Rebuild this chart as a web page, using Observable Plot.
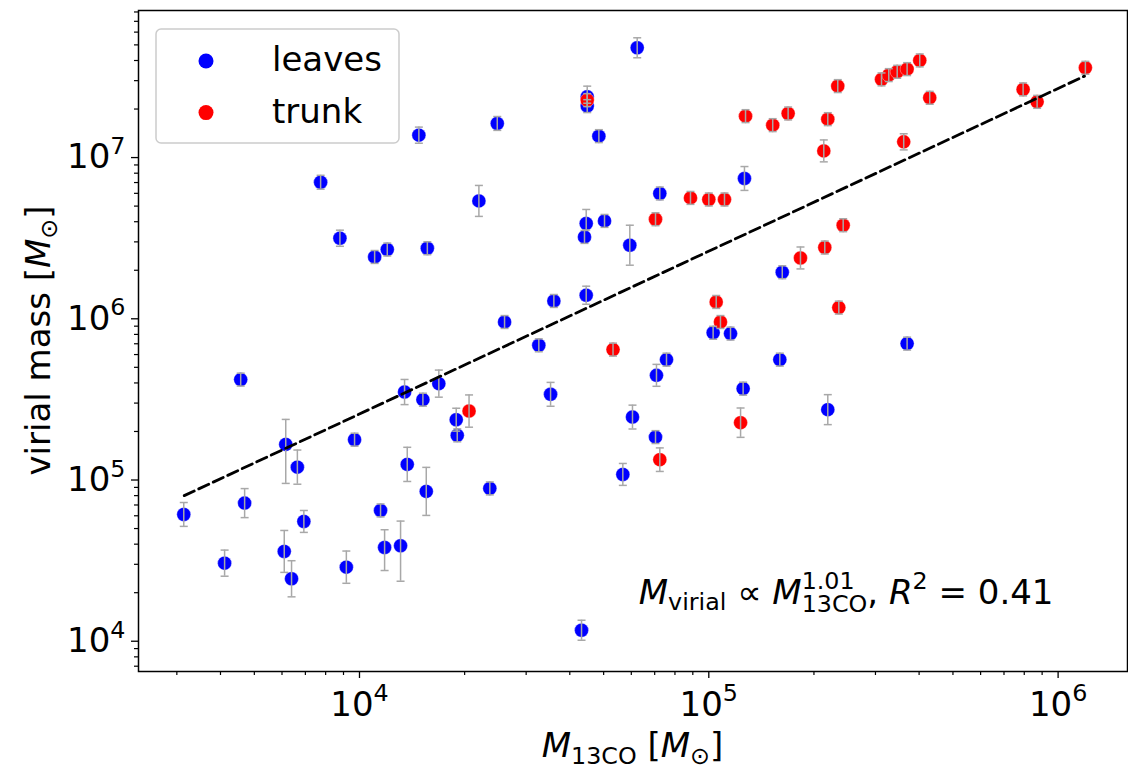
<!DOCTYPE html>
<html><head><meta charset="utf-8">
<script src="https://cdn.jsdelivr.net/npm/d3@7"></script>
<script src="https://cdn.jsdelivr.net/npm/@observablehq/plot@0.6"></script>
<style>body{margin:0;background:#fff}</style>
</head><body><div id="chart"></div>
<script>
// ---- data ----
const categories = ["leaves", "trunk"];
const colors = ["#0000ff", "#ff0000"];

const leavesX = [3140,4110,4570,4690,6090,6150,6390,6640,6930,7740,8790,9170,9680,11050,12010,11490,11800,13110,13460,13700,14790,15190,15530,15640,16870,18920,19050,21970,23610,24800,26020,32610,35240,36010,43220,44070,44570,44570,44870,44870,48450,50290,56740,59410,60470,62380,70380,70830,72400,75670,102900,115400,125400,126500,159700,162300,219100,369600];
const leavesY = [61150,30500,419500,71900,36060,166300,24400,120200,55340,7030000,3160000,28800,177900,2418000,2689000,64760,38160,39100,351300,125000,13770000,315000,84990,2739000,396100,236700,189200,5384000,88690,16280000,955000,684600,340000,1290000,11700,3219000,3900000,1400000,23820000,20850000,13580000,4046000,108300,2860000,245700,47970000,184600,445900,5988000,558000,818700,809400,368700,7419000,558000,1944000,273200,701500];
// error bars in dex (log10 units), lower / upper
const leavesErrLo = [.074,.081,.04,.09,.13,.242,.112,.106,.068,.043,.05,.1,.04,.04,.04,.04,.143,.22,.078,.106,.05,.04,.149,.04,.084,.071,.04,.096,.04,.043,.04,.04,.074,.04,.062,.04,.04,.056,.04,.04,.04,.04,.068,.124,.074,.062,.04,.068,.04,.04,.04,.04,.04,.074,.04,.04,.093,.04];
const leavesErrHi = [.074,.081,.04,.09,.13,.155,.112,.106,.068,.043,.05,.1,.04,.04,.04,.04,.11,.153,.078,.106,.05,.04,.149,.04,.084,.071,.04,.096,.04,.043,.04,.04,.074,.04,.062,.04,.087,.056,.066,.04,.04,.04,.068,.124,.074,.062,.04,.068,.04,.04,.04,.04,.04,.074,.04,.04,.093,.04];

const trunkX = [20590,44870,53190,70380,72400,88630,100000,110900,105000,108000,123300,127400,152400,168700,183000,213400,214800,219100,234000,242500,235600,312200,327500,346200,369600,401700,429000,361400,794000,870800,1197000];
const trunkY = [267700,22720000,644000,4145000,133700,5620000,5495000,5495000,1272000,955000,226800,18070000,15890000,18770000,2384000,11000000,2767000,17310000,27750000,3805000,1173000,30540000,32470000,34040000,35370000,40050000,23480000,12520000,26470000,22160000,36040000];
const trunkErrLo = [.1,.04,.04,.04,.073,.04,.04,.04,.04,.04,.091,.04,.04,.04,.068,.068,.04,.04,.04,.04,.04,.04,.04,.04,.04,.04,.04,.05,.04,.04,.04];
const trunkErrHi = trunkErrLo;

// fitted power law (dashed line) end points
const fitX = [3150, 1190000];
const fitY = [80000, 32000000];

const xMajor = [1e4, 1e5, 1e6];
const yMajor = [1e4, 1e5, 1e6, 1e7];
const minorMult = [2,3,4,5,6,7,8,9];
const xMinor = [1e3,1e4,1e5,1e6].flatMap(d => minorMult.map(m => m*d)).filter(v => v > 2330 && v < 1.58e6);
const yMinor = [1e3,1e4,1e5,1e6,1e7].flatMap(d => minorMult.map(m => m*d)).filter(v => v > 6490 && v < 8.17e7);

const fitText = "M_virial ∝ M_13CO^1.01, R^2 = 0.41";

// ---- tables ----
const rows = [
  ...leavesX.map((x, i) => ({group: categories[0], x, y: leavesY[i], lo: leavesY[i] / 10 ** leavesErrLo[i], hi: leavesY[i] * 10 ** leavesErrHi[i]})),
  ...trunkX.map((x, i) => ({group: categories[1], x, y: trunkY[i], lo: trunkY[i] / 10 ** trunkErrLo[i], hi: trunkY[i] * 10 ** trunkErrHi[i]}))
];
const fit = fitX.map((x, i) => ({x, y: fitY[i]}));

const capSymbol = {draw(ctx, size) { const w = Math.sqrt(size / Math.PI); ctx.moveTo(-w, 0); ctx.lineTo(w, 0); }};
const errColor = "#a8a8a8";
const FS = 34;

const plot = Plot.plot({
  width: 1128, height: 770,
  marginLeft: 138, marginRight: 1, marginTop: 10, marginBottom: 99,
  style: {fontFamily: "DejaVu Sans", fontSize: FS + "px", color: "black", background: "white", overflow: "visible"},
  x: {type: "log", domain: [2330, 1.58e6]},
  y: {type: "log", domain: [6490, 8.17e7]},
  color: {domain: categories, range: colors},
  marks: [
    Plot.dot(rows, {x: "x", y: "y", r: 7, fill: "group", stroke: "white", strokeOpacity: 0.35, strokeWidth: 1}),
    Plot.ruleX(rows, {x: "x", y1: "lo", y2: "hi", stroke: errColor, strokeWidth: 1.5}),
    Plot.dot(rows, {x: "x", y: "lo", symbol: capSymbol, r: 4, fill: "none", stroke: errColor, strokeWidth: 1.5}),
    Plot.dot(rows, {x: "x", y: "hi", symbol: capSymbol, r: 4, fill: "none", stroke: errColor, strokeWidth: 1.5}),
    Plot.line(fit, {x: "x", y: "y", stroke: "black", strokeWidth: 2.8, strokeDasharray: "11,5"}),
    Plot.frame({stroke: "black", strokeWidth: 1.5}),
    Plot.axisX(xMinor, {tickSize: 4, tickFormat: () => "", label: null, strokeWidth: 1.2}),
    Plot.axisX(xMajor, {tickSize: 7, tickPadding: 13, tickFormat: d => "10^" + Math.round(Math.log10(d)), label: null, strokeWidth: 1.3}),
    Plot.axisY(yMinor, {tickSize: 4, tickFormat: () => "", label: null, strokeWidth: 1.2}),
    Plot.axisY(yMajor, {tickSize: 7, tickPadding: 6, tickFormat: d => "10^" + Math.round(Math.log10(d)), label: null, strokeWidth: 1.3}),
    Plot.text([fitText], {frameAnchor: "bottom-right", textAnchor: "end", dx: -74, dy: -68})
  ]
});
document.getElementById("chart").appendChild(plot);
const svg = d3.select(plot);

// rich text helper: segments with italic / size / baseline shift (em of base)
function rich(textSel, segs, fs = FS) {
  textSel.text(null);
  let cur = 0;
  let lastNode = null;
  segs.forEach(s => {
    const size = (s.size || 1) * fs;
    const shift = (s.shift || 0) * fs;
    const ts = textSel.append("tspan").text(s.t)
      .attr("dy", (shift - cur).toFixed(2))
      .attr("font-size", size)
      .attr("font-style", s.it ? "italic" : "normal");
    if (s.back && lastNode) ts.attr("dx", -lastNode.getComputedTextLength());
    cur = shift;
    lastNode = ts.node();
  });
}

// tick labels 10^n with superscript; annotation with sub/superscripts
svg.selectAll("text").each(function() {
  const t = this.textContent;
  const m = /^10\^(\d+)$/.exec(t);
  if (m) rich(d3.select(this), [{t: "10"}, {t: m[1], size: 0.7, shift: -0.42}]);
  if (t === fitText) {
    const sel = d3.select(this).attr("dy", null);
    rich(sel, [
      {t: "M", it: true}, {t: "virial", size: 0.7, shift: 0.2},
      {t: " ∝ "}, {t: "M", it: true},
      {t: "1.01", size: 0.7, shift: -0.44}, {t: "13CO", size: 0.7, shift: 0.25, back: true},
      {t: ", "}, {t: "R", it: true}, {t: "2", size: 0.7, shift: -0.44}, {t: " = 0.41"}
    ]);
  }
});

// axis titles
const W = 1128, mL = 138, mR = 1, mT = 10, mB = 99, H = 770;
const xl = svg.append("text").attr("x", (mL + W - mR) / 2).attr("y", 757).attr("text-anchor", "middle")
  .attr("font-family", "DejaVu Sans").attr("fill", "black");
rich(xl, [{t: "M", it: true}, {t: "13CO", size: 0.7, shift: 0.2}, {t: " [", shift: 0}, {t: "M", it: true}, {t: "⊙", size: 0.7, shift: 0.2}, {t: "]", shift: 0}]);
const yl = svg.append("text").attr("transform", `translate(50,${(mT + H - mB) / 2}) rotate(-90)`).attr("text-anchor", "middle")
  .attr("font-family", "DejaVu Sans").attr("fill", "black");
rich(yl, [{t: "virial mass ["}, {t: "M", it: true}, {t: "⊙", size: 0.7, shift: 0.2}, {t: "]", shift: 0}]);

// legend (inside the frame, top-left)
const lg = svg.append("g").attr("font-family", "DejaVu Sans").attr("font-size", FS).attr("text-anchor", "start");
lg.append("rect").attr("x", mL + 18).attr("y", mT + 19).attr("width", 243).attr("height", 114).attr("rx", 5)
  .attr("fill", "white").attr("fill-opacity", 0.8).attr("stroke", "#cccccc").attr("stroke-width", 1.5);
categories.forEach((c, i) => {
  const cy = mT + 51 + i * 51.6;
  lg.append("circle").attr("cx", mL + 68).attr("cy", cy).attr("r", 7.5).attr("fill", colors[i]);
  lg.append("text").attr("x", mL + 134).attr("y", cy + 10).attr("fill", "black").attr("text-anchor", "start").text(c);
});
</script>
</body></html>
